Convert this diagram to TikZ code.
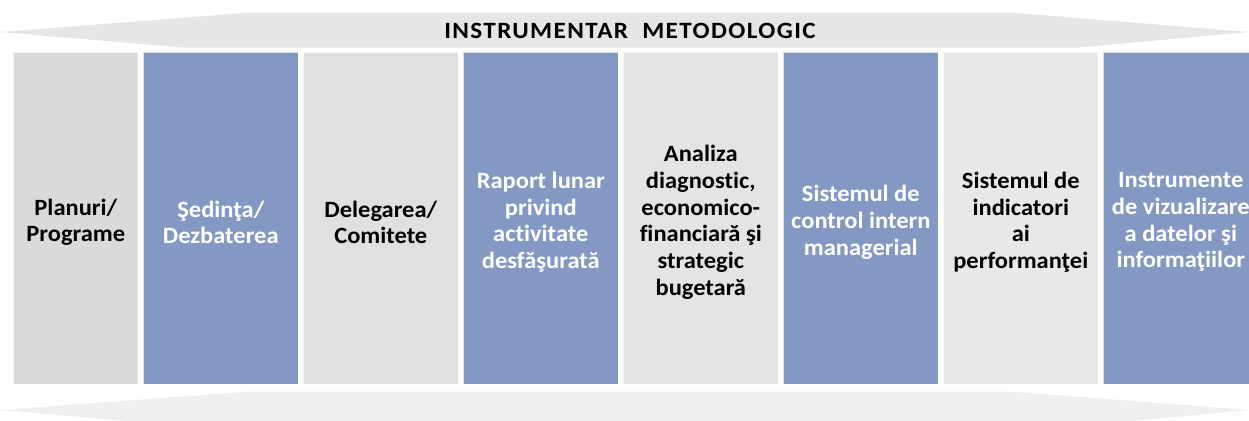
\documentclass[tikz,border=0pt]{standalone}
\usepackage{fontspec}
\setmainfont{Carlito}[FakeStretch=1.05, Ligatures={NoCommon,NoRare}]
\newfontfamily\titlefont{Carlito}[FakeStretch=1.08, LetterSpace=6, Ligatures={NoCommon,NoRare}]
\definecolor{bluecol}{HTML}{8399C4}
\definecolor{gA}{HTML}{DADADA}
\definecolor{gB}{HTML}{E0E0E0}
\definecolor{gC}{HTML}{E4E4E4}
\definecolor{gD}{HTML}{E8E8E8}
\definecolor{bantop}{HTML}{E6E6E6}
\definecolor{banbot}{HTML}{EFEFEF}
\tikzset{
  colbox/.style={rectangle, inner sep=0pt, minimum width=116.25pt, minimum height=249pt,
    draw=white, draw opacity=0.7, line width=0.7pt},
  bluebox/.style={colbox, fill=bluecol},
  graybox/.style={colbox},
  coltext/.style={inner sep=0pt, align=center, font=\fontsize{17.5}{20}\selectfont\bfseries},
  wtext/.style={coltext, text=white},
  btext/.style={coltext, text=black},
  titletext/.style={font=\titlefont\fontsize{17.5}{20}\selectfont\bfseries, text=black, inner sep=0pt}
}
\begin{document}
\begin{tikzpicture}[x=0.75pt, y=-0.75pt]
\useasboundingbox (0,0) rectangle (1249,421);
\clip (0,0) rectangle (1249,421);
% banners
\fill[bantop] (0,32) -- (250,12.5) -- (1010,12.5) -- (1249,32) -- (1080,47.5) -- (183,47.5) -- cycle;
\fill[banbot] (0,410) -- (250,391.5) -- (1010,391.5) -- (1249,410) -- (1080,426) -- (183,426) -- cycle;
\node[titletext] (title) at (630,31) {INSTRUMENTAR\ \ METODOLOGIC};
% columns
\node[graybox, fill=gA, minimum width=93.75pt] (c1) at (75.8,218.3) {};
\node[bluebox] (c2) at (220.8,218.3) {};
\node[graybox, fill=gB] (c3) at (380.8,218.3) {};
\node[bluebox] (c4) at (540.8,218.3) {};
\node[graybox, fill=gC] (c5) at (700.8,218.3) {};
\node[bluebox] (c6) at (860.8,218.3) {};
\node[graybox, fill=gD] (c7) at (1020.8,218.3) {};
\node[bluebox] (c8) at (1180.8,218.3) {};
% texts
\node[btext] (t1) at ([yshift=-3pt]c1.center) {Planuri/\\Programe};
\node[wtext] (t2) at ([yshift=-3pt]c2.center) {Şedinţa/\\Dezbaterea};
\node[btext] (t3) at ([yshift=-3pt]c3.center) {Delegarea/\\Comitete};
\node[wtext] (t4) at ([yshift=-3pt]c4.center) {Raport lunar\\privind\\activitate\\desfăşurată};
\node[btext] (t5) at ([yshift=-3pt]c5.center) {Analiza\\diagnostic,\\economico-\\financiară şi\\strategic\\bugetară};
\node[wtext] (t6) at ([yshift=-3pt]c6.center) {Sistemul de\\control intern\\managerial};
\node[btext] (t7) at ([yshift=-3pt]c7.center) {Sistemul de\\indicatori\\ai\\performanţei};
\node[wtext] (t8) at ([yshift=-3pt]c8.center) {Instrumente\\de vizualizare\\a datelor şi\\informaţiilor};
\end{tikzpicture}
\end{document}
